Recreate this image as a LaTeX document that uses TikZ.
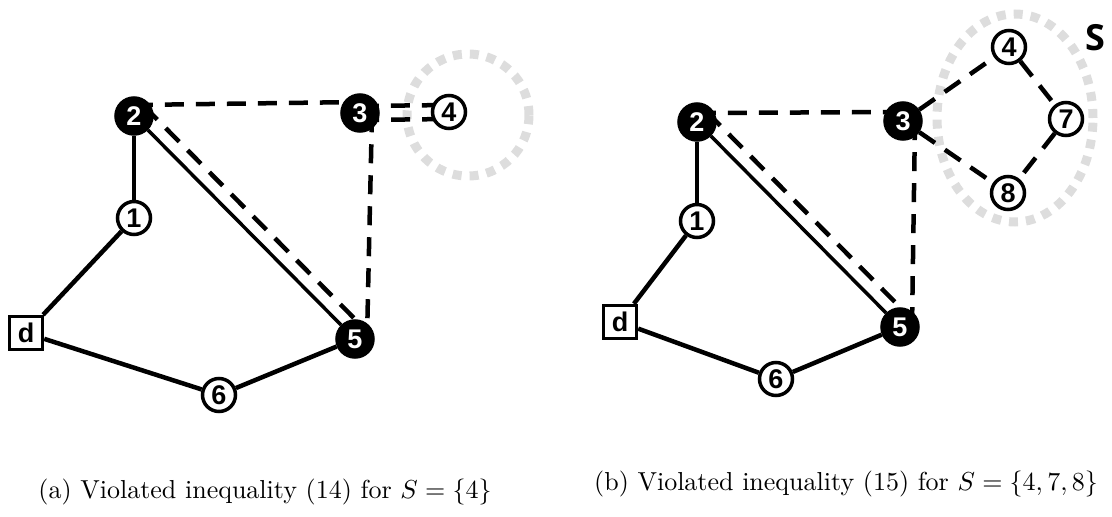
\documentclass[tikz,border=0pt]{standalone}
\usepackage{fontspec}
\newfontfamily\lblfont{Liberation Sans}
\newfontfamily\sfont{Open Sans}
\usetikzlibrary{calc,backgrounds}
\definecolor{lightg}{RGB}{221,221,221}
\begin{document}
\begin{tikzpicture}[x=1pt,y=-1pt,
  base/.style={circle,line width=3.5pt,inner sep=0pt,font=\lblfont\bfseries\fontsize{27}{27}\selectfont},
  wnode/.style={base,draw=black,fill=white,minimum size=33pt},
  bnode/.style={base,draw=black,fill=black,text=white,minimum size=36pt},
  dnode/.style={rectangle,draw=black,fill=white,line width=3.5pt,minimum size=33pt,inner sep=0pt,font=\lblfont\bfseries\fontsize{27}{27}\selectfont},
  edge/.style={line width=4.5pt},
  thinedge/.style={line width=3.5pt},
  dashedge/.style={line width=4.5pt,dash pattern=on 19pt off 12pt},
  ring/.style={draw=lightg,line width=9pt,dash pattern=on 9pt off 8pt},
  captext/.style={anchor=base,inner sep=0pt,scale=2.6}
]
\useasboundingbox (0,0) rectangle (1112,517);

% ---------- left graph ----------
\node[bnode] (a2) at (134,116) {2};
\node[bnode] (a3) at (360,113) {3};
\node[wnode] (a4) at (449,112) {4};
\node[wnode] (a1) at (134,218) {1};
\node[dnode] (ad) at (26,333) {d};
\node[bnode] (a5) at (355,339) {5};
\node[wnode] (a6) at (219,395) {6};

% ---------- right graph ----------
\node[bnode] (b2) at (697,122) {2};
\node[bnode] (b3) at (903,121) {3};
\node[wnode] (b4) at (1009,47) {4};
\node[wnode] (b7) at (1066,119) {7};
\node[wnode] (b8) at (1008,193) {8};
\node[wnode] (b1) at (697,221) {1};
\node[dnode] (bd) at (620,322) {d};
\node[bnode] (b5) at (900,327) {5};
\node[wnode] (b6) at (776,379) {6};

\node[font=\sfont\bfseries\fontsize{36}{36}\selectfont,inner sep=0pt] (slab) at (1095,38) {S};

\begin{pgfonlayer}{background}
  % rings
  \draw[ring] (468,115) circle (61pt);
  \draw[ring] (1015,118) ellipse [x radius=78pt, y radius=104pt];

  % left edges
  \draw[edge] (a2) -- (a1);
  \draw[edge] (a1) -- (ad);
  \draw[edge] (ad) -- (a6);
  \draw[edge] (a6) -- (a5);
  \draw[thinedge] (a2) -- (a5);
  \draw[dashedge] ($(a2)!11pt!90:(a3)$) -- ($(a3)!11pt!-90:(a2)$);
  \draw[dashedge] ($(a2)!14pt!90:(a5)$) -- ($(a5)!14pt!-90:(a2)$);
  \draw[dashedge] ($(a3)!12pt!90:(a5)$) -- ($(a5)!12pt!-90:(a3)$);
  \draw[dashedge] ($(a3)!7pt!90:(a4)$) -- ($(a4)!7pt!-90:(a3)$);
  \draw[dashedge] ($(a3)!7pt!-90:(a4)$) -- ($(a4)!7pt!90:(a3)$);

  % right edges
  \draw[edge] (b2) -- (b1);
  \draw[edge] (b1) -- (bd);
  \draw[edge] (bd) -- (b6);
  \draw[edge] (b6) -- (b5);
  \draw[thinedge] (b2) -- (b5);
  \draw[dashedge] ($(b2)!9pt!90:(b3)$) -- ($(b3)!9pt!-90:(b2)$);
  \draw[dashedge] ($(b2)!14pt!90:(b5)$) -- ($(b5)!14pt!-90:(b2)$);
  \draw[dashedge] ($(b3)!12pt!90:(b5)$) -- ($(b5)!12pt!-90:(b3)$);
  \draw[dashedge] (b3) -- (b4);
  \draw[dashedge] (b3) -- (b8);
  \draw[dashedge] (b4) -- (b7);
  \draw[dashedge] (b7) -- (b8);
\end{pgfonlayer}

% captions
\node[captext] (capa) at (265,498) {(a) Violated inequality (14) for $S=\{4\}$};
\node[captext] (capb) at (846,490) {(b) Violated inequality (15) for $S=\{4,7,8\}$};
\end{tikzpicture}
\end{document}
